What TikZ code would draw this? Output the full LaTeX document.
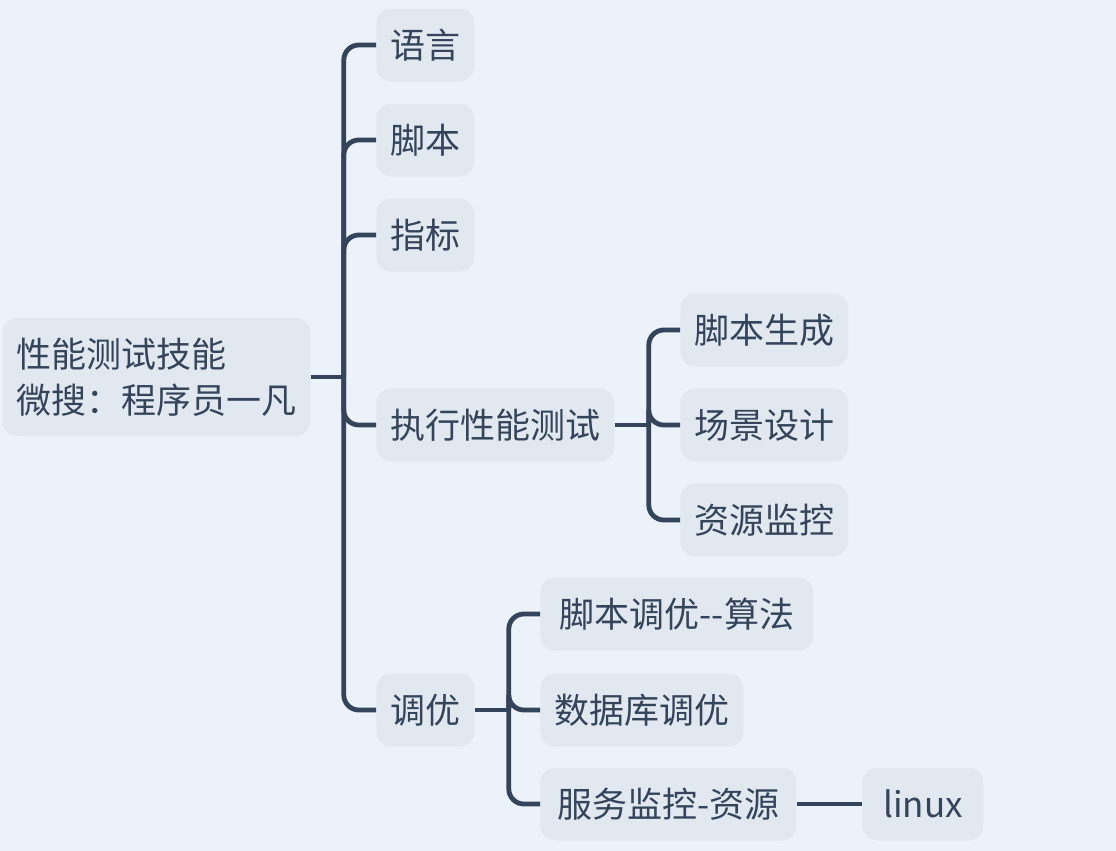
\documentclass[tikz,border=0pt]{standalone}
\usepackage{fontspec}
\setmainfont{Noto Sans CJK SC}
\usetikzlibrary{positioning}
\definecolor{canvas}{HTML}{EBF2FA}
\definecolor{topicfill}{HTML}{E1E8F0}
\definecolor{inkblue}{HTML}{34455B}
\tikzset{
    topic/.style={fill=topicfill, rounded corners=7.5pt, text=inkblue,
        minimum height=36.5pt, inner xsep=7pt, anchor=west,
        font=\fontsize{17.5}{23}\selectfont},
    branch/.style={draw=inkblue, line width=2.4pt, rounded corners=7.5pt},
}
\begin{document}
\begin{tikzpicture}[x=0.5pt, y=-0.5pt]
    \fill[canvas] (0, 0) rectangle (1116, 851);
    \useasboundingbox (0, 0) rectangle (1116, 851);
    % central topic
    \node[topic, minimum width=154pt, minimum height=59pt, align=left] (root)
        at (2, 377) {性能测试技能\\微搜：程序员一凡};
    % first level
    \node[topic, minimum width=49pt] (yuyan) at (376, 45) {语言};
    \node[topic, minimum width=49pt] (jiaoben) at (376, 140) {脚本};
    \node[topic, minimum width=49pt] (zhibiao) at (376, 235) {指标};
    \node[topic, minimum width=119pt] (zhixing) at (376, 425) {执行性能测试};
    \node[topic, minimum width=49pt] (tiaoyou) at (376, 710) {调优};
    % second level
    \node[topic, minimum width=84pt] (shengcheng) at (680, 330) {脚本生成};
    \node[topic, minimum width=84pt] (changjing) at (680, 425) {场景设计};
    \node[topic, minimum width=84pt] (jiankong) at (680, 520) {资源监控};
    \node[topic, minimum width=136.5pt] (suanfa) at (540, 614) {脚本调优{-}{-}算法};
    \node[topic, minimum width=97.5pt] (shujuku) at (540, 710) {数据库调优};
    \node[topic, minimum width=128pt] (fuwu) at (540, 804) {服务监控-资源};
    \node[topic, minimum width=60.5pt] (linux) at (862, 804) {linux};
    % connectors
    \draw[branch] (root.east) -- ++(33, 0) coordinate (trunk);
    \foreach \c in {yuyan, jiaoben, zhibiao, zhixing, tiaoyou}
        \draw[branch] (trunk) |- (\c.west);
    \draw[branch] (zhixing.east) -- ++(34, 0) coordinate (trunkb);
    \foreach \c in {shengcheng, changjing, jiankong}
        \draw[branch] (trunkb) |- (\c.west);
    \draw[branch] (tiaoyou.east) -- ++(34, 0) coordinate (trunkc);
    \foreach \c in {suanfa, shujuku, fuwu}
        \draw[branch] (trunkc) |- (\c.west);
    \draw[branch] (fuwu.east) -- (linux.west);
\end{tikzpicture}
\end{document}
